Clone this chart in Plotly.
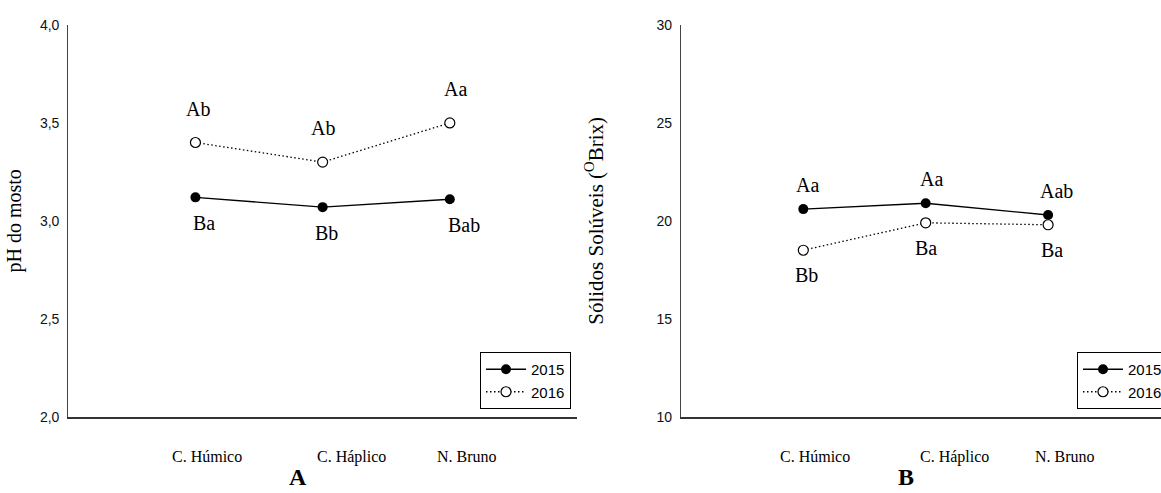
import plotly.graph_objects as go
from plotly.subplots import make_subplots

# Soil classes (x categories)
soils = ["C. Húmico", "C. Háplico", "N. Bruno"]
years = ["2015", "2016"]

# Panel A: must pH
ph_2015 = [3.12, 3.07, 3.11]
ph_2016 = [3.40, 3.30, 3.50]
ph_letters_2015 = ["Ba", "Bb", "Bab"]
ph_letters_2016 = ["Ab", "Ab", "Aa"]

# Panel B: soluble solids (ºBrix)
ss_2015 = [20.6, 20.9, 20.3]
ss_2016 = [18.5, 19.9, 19.8]
ss_letters_2015 = ["Aa", "Aa", "Aab"]
ss_letters_2016 = ["Bb", "Ba", "Ba"]

ph_ticks = [2.0, 2.5, 3.0, 3.5, 4.0]
ss_ticks = [10, 15, 20, 25, 30]

W, H = 1161, 493
xpos = [1, 2, 3]

SERIF = "Liberation Serif, Times New Roman, serif"
SANS = "Liberation Sans, Arial, sans-serif"

fig = make_subplots(rows=1, cols=2)

def add_series(y15, y16, col, legend):
    fig.add_trace(go.Scatter(
        x=xpos, y=y15, name=years[0], mode="lines+markers",
        line=dict(color="black", width=1.4),
        marker=dict(symbol="circle", size=10, color="black"),
        legend=legend, showlegend=True), row=1, col=col)
    fig.add_trace(go.Scatter(
        x=xpos, y=y16, name=years[1], mode="lines+markers",
        line=dict(color="black", width=1.3, dash="1.5px,2.5px"),
        marker=dict(symbol="circle", size=10, color="white",
                    line=dict(color="black", width=1.2)),
        legend=legend, showlegend=True), row=1, col=col)

add_series(ph_2015, ph_2016, 1, "legend")
add_series(ss_2015, ss_2016, 2, "legend2")

annotations = []

def letters(xref, yref, values, texts, yshift, xshifts):
    for x, v, t, dx in zip(xpos, values, texts, xshifts):
        annotations.append(dict(
            x=x, y=v, xref=xref, yref=yref, text=t, showarrow=False,
            yshift=yshift, xshift=dx, xanchor="center", yanchor="middle",
            font=dict(family=SERIF, size=20, color="black")))

letters("x", "y", ph_2016, ph_letters_2016, 34, [3, 0, 6])
letters("x", "y", ph_2015, ph_letters_2015, -26, [9, 4, 14])
letters("x2", "y2", ss_2015, ss_letters_2015, 24, [4, 6, 8])
letters("x2", "y2", ss_2016, ss_letters_2016, -25, [3, 0, 4])

# Category labels under each x axis
cat_shift = [12, 29, 17]
for xref in ["x", "x2"]:
    for x, name, dx in zip(xpos, soils, cat_shift):
        annotations.append(dict(
            x=x, y=(H - 456.7) / H, xref=xref, yref="paper", text=name,
            showarrow=False, xshift=dx, xanchor="center", yanchor="middle",
            font=dict(family=SERIF, size=16, color="black")))

# Panel letters
for txt, px in [("A", 298), ("B", 906)]:
    annotations.append(dict(
        x=px / W, y=(H - 477) / H, xref="paper", yref="paper", text="<b>%s</b>" % txt,
        showarrow=False, xanchor="center", yanchor="middle",
        font=dict(family=SERIF, size=24, color="black")))

ydom = [(H - 416.7) / H, (H - 25) / H]

axis_common = dict(showgrid=False, zeroline=False, ticks="",
                   tickfont=dict(family=SANS, size=14, color="#111"))

legend_style = dict(y=(H - 352) / H, xanchor="left", yanchor="top",
                    bordercolor="black", borderwidth=1, bgcolor="white",
                    font=dict(family=SANS, size=15, color="black"),
                    itemwidth=40, tracegroupgap=0)

fig.update_layout(
    width=W, height=H,
    margin=dict(l=0, r=0, t=0, b=0, autoexpand=False),
    paper_bgcolor="white", plot_bgcolor="white",
    separators=",.",
    annotations=annotations,
    xaxis=dict(domain=[68.25 / W, 577 / W], range=[0, 4], showticklabels=False,
               showline=True, linecolor="#333", linewidth=2, **axis_common),
    xaxis2=dict(domain=[680.9 / W, 1.0], range=[0, (W - 680.9) / 122.4], showticklabels=False,
                showline=True, linecolor="#333", linewidth=2, **axis_common),
    yaxis=dict(domain=ydom, range=[2, 4], tickvals=ph_ticks, tickformat=".1f",
               showline=True, linecolor="#444", linewidth=1.2, ticklabelstandoff=5,
               title=dict(text="pH do mosto", standoff=12,
                          font=dict(family=SERIF, size=20, color="black")),
               **axis_common),
    yaxis2=dict(domain=ydom, range=[10, 30], tickvals=ss_ticks,
                showline=True, linecolor="#444", linewidth=1.2, ticklabelstandoff=5,
                title=dict(text="Sólidos Solúveis (<sup>O</sup>Brix)", standoff=47,
                           font=dict(family=SERIF, size=21, color="black")),
                **axis_common),
    legend=dict(x=480 / W, **legend_style),
    legend2=dict(x=1077 / W, **legend_style),
    showlegend=True,
)

fig.write_html("out.html")
